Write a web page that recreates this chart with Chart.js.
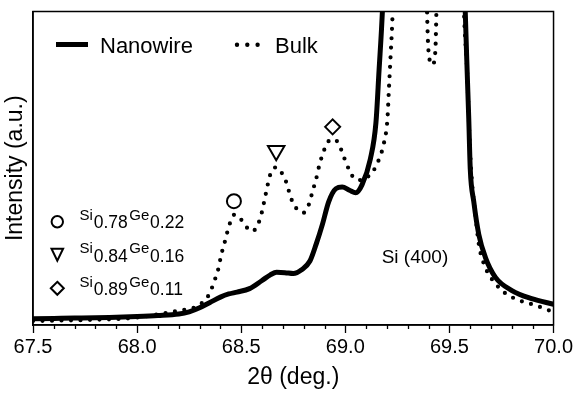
<!DOCTYPE html>
<html>
<head>
<meta charset="utf-8">
<script src="https://cdn.jsdelivr.net/npm/chart.js@4"></script>
<style>
  html, body { margin: 0; padding: 0; background: #fff; }
  canvas { display: block; }
</style>
</head>
<body>
<canvas id="c" width="575" height="394"></canvas>
<script>
// ---- data ----
const nanowireX = [67.50, 67.60, 67.70, 67.80, 67.90, 68.00, 68.10, 68.20, 68.25, 68.30, 68.35, 68.40, 68.44, 68.48, 68.54, 68.60, 68.64, 68.67, 68.71, 68.75, 68.79, 68.83, 68.86, 68.89, 68.92, 68.955, 68.985, 69.02, 69.05, 69.08, 69.12, 69.147, 69.162, 69.178, 69.20, 69.30, 69.40, 69.50, 69.56, 69.576, 69.585, 69.593, 69.60, 69.617, 69.641, 69.673, 69.721, 69.80, 69.895, 70.00];
const nanowireY = [2.0, 2.1, 2.2, 2.3, 2.5, 2.7, 3.0, 3.5, 4.2, 5.5, 7.2, 8.9, 9.9, 10.5, 11.6, 14.2, 16.0, 16.8, 16.7, 16.4, 17.6, 20.4, 25.8, 32.1, 39.3, 43.5, 44.0, 43.0, 42.2, 44.7, 52.9, 64.5, 81.2, 100, 140, 500, 800, 500, 140, 100, 81.2, 65.5, 49.8, 39.3, 28.9, 21.5, 15.2, 11.0, 8.4, 6.6];

const bulkX = [67.50, 67.60, 67.70, 67.80, 67.90, 68.00, 68.10, 68.20, 68.254, 68.29, 68.325, 68.352, 68.368, 68.386, 68.405, 68.42, 68.444, 68.468, 68.50, 68.53, 68.554, 68.583, 68.60, 68.617, 68.64, 68.668, 68.693, 68.716, 68.74, 68.765, 68.799, 68.827, 68.842, 68.86, 68.875, 68.90, 68.931, 68.966, 68.985, 69.003, 69.019, 69.046, 69.083, 69.106, 69.13, 69.162, 69.186, 69.202, 69.21, 69.218, 69.226, 69.24, 69.30, 69.36, 69.39, 69.40, 69.418, 69.432, 69.44, 69.48, 69.53, 69.56, 69.57, 69.585, 69.598, 69.609, 69.625, 69.641, 69.673, 69.721, 69.769, 69.834, 69.913, 69.977, 70.00];
const bulkY = [1.3, 1.4, 1.5, 1.7, 1.9, 2.4, 3.4, 4.6, 5.2, 6.0, 7.9, 10.5, 13.6, 16.8, 22.6, 26.2, 32.1, 35.2, 33.6, 30.9, 29.9, 32.5, 36.2, 41.5, 48.1, 50.3, 48.7, 45.6, 40.3, 37.2, 35.8, 38.8, 42.5, 46.6, 50.9, 56.1, 59.2, 58.2, 55.0, 51.9, 49.4, 46.6, 46.2, 47.2, 48.7, 52.9, 58.2, 65.5, 76.1, 86.5, 97.5, 130, 400, 300, 110, 87, 83, 87, 110, 300, 300, 130, 100, 81, 57, 45, 35, 25.8, 18.3, 13.2, 10.1, 7.9, 6.3, 4.7, 4.2];

// peak markers (Si0.78Ge0.22, Si0.84Ge0.16, Si0.89Ge0.11)
const markerX = [68.465, 68.668, 68.939];
const markerY = [39.5, 55.6, 63.2];
const markerStyles = ['circle', 'triangle', 'rectRot'];
const markerLabels = [['0.78', '0.22'], ['0.84', '0.16'], ['0.89', '0.11']];

const seriesNames = ['Nanowire', 'Bulk'];
const xTickMin = 67.5, xTickMax = 70.0, xTickStep = 0.5, xMinorStep = 0.1;
const xTitle = '2θ (deg.)';
const yTitle = 'Intensity (a.u.)';
const peakLabel = 'Si (400)';

const FONT = '"Liberation Sans", Arial, Helvetica, sans-serif';
Chart.defaults.font.family = FONT;
Chart.defaults.color = '#000';

const toXY = (xs, ys) => xs.map((x, i) => ({ x: x, y: ys[i] }));

const decorPlugin = {
  id: 'decor',
  afterDraw(chart) {
    const ctx = chart.ctx;
    const a = chart.chartArea;
    const xs = chart.scales.x;
    ctx.save();
    // frame
    ctx.strokeStyle = '#000';
    ctx.lineWidth = 1.5;
    ctx.strokeRect(a.left, a.top, a.right - a.left, a.bottom - a.top);
    // minor ticks
    ctx.lineWidth = 1.3;
    const n = Math.round((xTickMax - xTickMin) / xMinorStep);
    for (let k = 1; k < n; k++) {
      if (k % 5 === 0) continue;
      const px = Math.round(xs.getPixelForValue(xTickMin + k * xMinorStep)) + 0.5;
      ctx.beginPath();
      ctx.moveTo(px, a.bottom);
      ctx.lineTo(px, a.bottom + 4);
      ctx.stroke();
    }
    // top legend
    ctx.fillStyle = '#000';
    ctx.textBaseline = 'alphabetic';
    ctx.textAlign = 'left';
    ctx.font = '22px ' + FONT;
    ctx.lineWidth = 5;
    ctx.lineCap = 'butt';
    ctx.beginPath();
    ctx.moveTo(a.left + 23, 44.5);
    ctx.lineTo(a.left + 55, 44.5);
    ctx.stroke();
    ctx.fillText(seriesNames[0], a.left + 67, 52.5);
    ctx.lineWidth = 4.4;
    ctx.lineCap = 'round';
    ctx.setLineDash([0, 10.3]);
    ctx.beginPath();
    ctx.moveTo(a.left + 204, 44.7);
    ctx.lineTo(a.left + 226, 44.7);
    ctx.stroke();
    ctx.setLineDash([]);
    ctx.fillText(seriesNames[1], a.left + 242, 52.5);

    // marker legend (left)
    const rowY = [221.7, 255, 288.3];
    ctx.lineWidth = 2;
    ctx.lineCap = 'butt';
    ctx.lineJoin = 'miter';
    for (let i = 0; i < 3; i++) {
      const cx = a.left + 24.3, cy = rowY[i];
      ctx.beginPath();
      if (markerStyles[i] === 'circle') {
        ctx.arc(cx, cy, 5.7, 0, Math.PI * 2);
      } else if (markerStyles[i] === 'triangle') {
        ctx.moveTo(cx - 5.8, cy - 6.2);
        ctx.lineTo(cx + 5.8, cy - 6.2);
        ctx.lineTo(cx, cy + 5.8);
        ctx.closePath();
      } else {
        ctx.moveTo(cx, cy - 6.5);
        ctx.lineTo(cx + 6.5, cy);
        ctx.lineTo(cx, cy + 6.5);
        ctx.lineTo(cx - 6.5, cy);
        ctx.closePath();
      }
      ctx.stroke();
      // text Si_a Ge_b
      const base = rowY[i] - 1.7;
      let tx = a.left + 46.6;
      ctx.font = '15px ' + FONT;
      ctx.fillText('Si', tx, base);
      tx += ctx.measureText('Si').width + 0.8;
      ctx.font = '17.5px ' + FONT;
      ctx.fillText(markerLabels[i][0], tx, base + 8.3);
      tx += ctx.measureText(markerLabels[i][0]).width + 1.5;
      ctx.font = '15px ' + FONT;
      ctx.fillText('Ge', tx, base);
      tx += ctx.measureText('Ge').width + 0.8;
      ctx.font = '17.5px ' + FONT;
      ctx.fillText(markerLabels[i][1], tx, base + 8.3);
    }
    // Si (400)
    ctx.font = '19px ' + FONT;
    ctx.fillText(peakLabel, 381.7, 263.3);
    ctx.restore();
  }
};

new Chart(document.getElementById('c'), {
  type: 'line',
  data: {
    datasets: [
      {
        label: seriesNames[0],
        data: toXY(nanowireX, nanowireY),
        borderColor: '#000',
        borderWidth: 5,
        pointRadius: 0,
        cubicInterpolationMode: 'monotone',
        borderJoinStyle: 'round',
        fill: false
      },
      {
        label: seriesNames[1],
        data: toXY(bulkX, bulkY),
        borderColor: '#000',
        borderWidth: 4.2,
        borderDash: [0, 9.5],
        borderCapStyle: 'round',
        borderJoinStyle: 'round',
        pointRadius: 0,
        cubicInterpolationMode: 'monotone',
        fill: false
      },
      {
        label: 'markers',
        type: 'scatter',
        data: toXY(markerX, markerY),
        showLine: false,
        pointStyle: markerStyles,
        pointRadius: [7, 9.5, 7.5],
        pointRotation: [0, 180, 0],
        pointBorderWidth: 2,
        pointBorderColor: '#000',
        pointBackgroundColor: 'rgba(255,255,255,0)',
        clip: false
      }
    ]
  },
  options: {
    responsive: false,
    animation: false,
    devicePixelRatio: 1,
    events: [],
    layout: { padding: { top: 7, right: 20, left: 0, bottom: 0 } },
    plugins: { legend: { display: false }, tooltip: { enabled: false } },
    scales: {
      x: {
        type: 'linear',
        min: xTickMin,
        max: xTickMax,
        afterFit: (s) => { s.height = 69; },
        afterBuildTicks: (s) => {
          const t = [];
          for (let v = xTickMin; v <= xTickMax + 1e-9; v += xTickStep) t.push({ value: +v.toFixed(2) });
          s.ticks = t;
        },
        ticks: {
          font: { size: 20 },
          color: '#000',
          padding: 2,
          maxRotation: 0,
          autoSkip: false,
          callback: (v) => Number(v).toFixed(1)
        },
        grid: { display: true, drawOnChartArea: false, drawTicks: true, tickLength: 8, color: '#000', tickWidth: 1.3 },
        border: { display: true, color: '#000', width: 1.5 },
        title: { display: true, text: xTitle, font: { size: 23 }, color: '#000', padding: { top: 0, bottom: 3 } }
      },
      y: {
        type: 'linear',
        min: 0,
        max: 100,
        afterFit: (s) => { s.width = 33; },
        ticks: { display: false },
        grid: { display: false },
        border: { display: true, color: '#000', width: 1.5 },
        title: { display: true, text: yTitle, font: { size: 23 }, color: '#000', padding: { top: 2, bottom: 0 } }
      }
    }
  },
  plugins: [decorPlugin]
});
</script>
</body>
</html>
